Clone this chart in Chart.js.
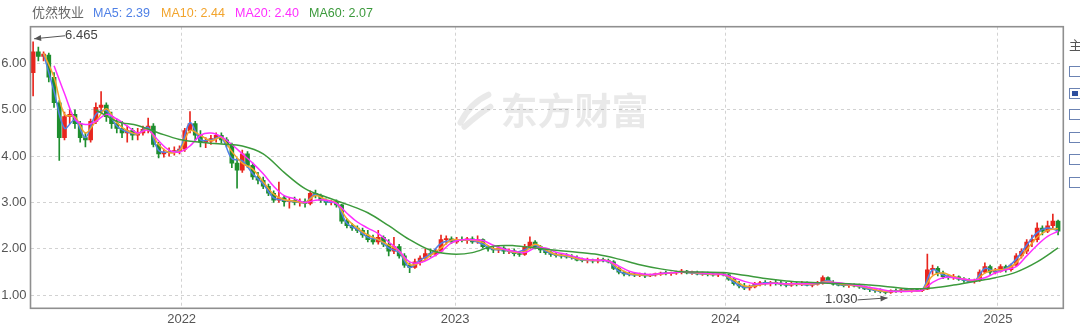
<!DOCTYPE html>
<html><head><meta charset="utf-8">
<script src="https://cdn.jsdelivr.net/npm/chart.js@4.4.1/dist/chart.umd.min.js"></script>
<style>
html,body{margin:0;padding:0;background:#fff;}
#wrap{position:relative;width:1080px;height:326px;overflow:hidden;font-family:"Liberation Sans",Arial,"Noto Sans CJK SC",sans-serif;}
#c{position:absolute;left:0;top:0;}
.lg{position:absolute;top:6px;font-size:12.5px;line-height:14px;white-space:nowrap;}
.cb{position:absolute;left:1069px;width:12px;height:11px;border:1px solid #6b83b3;box-sizing:border-box;background:#fff;}
.cb.on::after{content:"";position:absolute;left:2px;top:2px;width:6px;height:5px;background:#2d4f9e;}
#zhu{position:absolute;left:1069px;top:38px;font-size:13px;color:#555;font-family:"Noto Sans CJK SC",sans-serif;line-height:14px;}
</style></head><body>
<div id="wrap">
<canvas id="c" width="1080" height="326"></canvas>
<div id="legend"></div>
<div id="zhu">主</div>
<div class="cb" style="top:66px"></div>
<div class="cb on" style="top:88px"></div>
<div class="cb" style="top:109px"></div>
<div class="cb" style="top:132px"></div>
<div class="cb" style="top:154px"></div>
<div class="cb" style="top:177px"></div>
</div>
<script>
// ---------- DATA ----------
const stockName = "优然牧业";
const watermarkText = "东方财富";
const maNames = ["MA5", "MA10", "MA20", "MA60"];
const maLatest = ["2.39", "2.44", "2.40", "2.07"];
const yearLabels = ["2022", "2023", "2024", "2025"];
const yearTickPos = [28.9, 81.2, 132.9, 185.0];   // week index where each year starts
const yTickValues = [1, 2, 3, 4, 5, 6];

// weekly candles (week index 0 = listing week, June 2021)
const opens = [5.80,6.25,6.15,6.18,5.70,5.15,4.40,4.85,4.90,4.70,4.40,4.35,4.75,5.05,5.10,4.85,4.70,4.60,4.50,4.55,
4.45,4.50,4.58,4.65,4.25,4.05,4.08,4.10,4.12,4.15,4.55,4.70,4.45,4.30,4.32,4.38,4.45,4.35,4.25,3.85,
3.70,4.05,3.80,3.55,3.48,3.35,3.20,3.05,3.10,3.02,3.05,3.00,3.02,2.98,3.20,3.15,3.05,3.00,3.02,2.95,
2.60,2.50,2.45,2.40,2.30,2.20,2.15,2.25,2.10,1.95,2.05,1.85,1.65,1.60,1.72,1.80,1.90,1.88,1.95,2.20,
2.22,2.15,2.20,2.18,2.22,2.15,2.20,2.05,2.00,1.98,2.02,1.95,1.96,1.90,1.88,2.05,2.15,2.05,1.98,1.92,
1.88,1.86,1.85,1.83,1.82,1.76,1.75,1.76,1.74,1.76,1.75,1.72,1.58,1.50,1.46,1.45,1.44,1.45,1.42,1.44,
1.46,1.48,1.47,1.48,1.50,1.52,1.48,1.49,1.46,1.47,1.45,1.44,1.46,1.44,1.35,1.25,1.20,1.16,1.18,1.25,
1.27,1.26,1.28,1.25,1.24,1.22,1.25,1.23,1.26,1.22,1.24,1.26,1.38,1.28,1.24,1.22,1.21,1.23,1.20,1.18,
1.14,1.12,1.10,1.08,1.06,1.10,1.08,1.12,1.10,1.12,1.10,1.13,1.55,1.58,1.48,1.40,1.38,1.40,1.35,1.32,
1.30,1.32,1.50,1.62,1.50,1.52,1.62,1.55,1.65,1.85,1.95,2.15,2.20,2.45,2.38,2.50,2.60];
const highs = [6.465,6.35,6.25,6.22,5.80,5.20,4.95,5.00,5.00,4.75,4.50,4.80,5.15,5.39,5.15,4.95,4.80,4.75,4.65,4.60,
4.60,4.65,4.82,4.70,4.30,4.15,4.18,4.20,4.22,4.60,4.96,4.75,4.55,4.40,4.45,4.50,4.50,4.40,4.28,3.95,
4.13,4.10,3.85,3.65,3.55,3.40,3.25,3.44,3.15,3.10,3.12,3.08,3.08,3.25,3.27,3.18,3.08,3.05,3.06,2.96,
2.65,2.55,2.50,2.45,2.40,2.30,2.40,2.28,2.20,2.25,2.10,1.90,1.70,1.78,1.85,2.00,2.00,2.00,2.30,2.28,
2.26,2.25,2.26,2.25,2.26,2.28,2.22,2.08,2.05,2.08,2.05,2.00,2.00,1.95,2.10,2.26,2.18,2.08,2.00,1.95,
1.92,1.90,1.90,1.88,1.85,1.80,1.80,1.78,1.80,1.80,1.78,1.75,1.62,1.52,1.50,1.48,1.48,1.48,1.46,1.48,
1.50,1.52,1.50,1.52,1.56,1.54,1.52,1.52,1.50,1.50,1.48,1.48,1.49,1.46,1.38,1.30,1.26,1.22,1.28,1.30,
1.32,1.30,1.33,1.30,1.28,1.28,1.28,1.30,1.29,1.26,1.30,1.42,1.40,1.32,1.28,1.26,1.26,1.25,1.24,1.20,
1.18,1.15,1.14,1.10,1.12,1.14,1.14,1.15,1.14,1.14,1.15,1.89,1.65,1.62,1.52,1.45,1.45,1.42,1.38,1.36,
1.35,1.55,1.70,1.65,1.58,1.66,1.65,1.68,1.90,2.00,2.20,2.30,2.56,2.50,2.60,2.75,2.62];
const lows = [5.30,6.05,6.05,5.60,5.05,3.91,4.35,4.70,4.60,4.30,4.20,4.30,4.70,4.95,4.75,4.60,4.50,4.40,4.30,4.35,
4.35,4.45,4.50,4.20,3.96,3.98,4.00,4.02,4.05,4.10,4.50,4.35,4.20,4.18,4.25,4.30,4.28,4.20,3.75,3.31,
3.65,3.75,3.50,3.40,3.30,3.15,3.00,3.00,2.92,2.88,2.95,2.92,2.90,2.95,3.10,3.00,2.95,2.95,2.90,2.55,
2.45,2.40,2.35,2.25,2.15,2.10,2.10,2.05,1.85,1.90,1.80,1.60,1.49,1.58,1.65,1.75,1.82,1.85,1.92,2.10,
2.12,2.12,2.15,2.12,2.12,2.12,2.02,1.95,1.92,1.92,1.90,1.90,1.85,1.84,1.86,2.00,2.00,1.92,1.88,1.84,
1.82,1.80,1.80,1.78,1.74,1.72,1.70,1.70,1.70,1.72,1.70,1.55,1.46,1.42,1.42,1.40,1.40,1.38,1.40,1.41,
1.43,1.44,1.43,1.45,1.46,1.46,1.45,1.44,1.43,1.42,1.41,1.40,1.42,1.32,1.22,1.16,1.12,1.11,1.16,1.20,
1.22,1.20,1.22,1.20,1.18,1.19,1.20,1.21,1.20,1.18,1.22,1.24,1.25,1.22,1.20,1.18,1.17,1.18,1.15,1.12,
1.08,1.06,1.05,1.03,1.04,1.06,1.06,1.08,1.07,1.08,1.08,1.12,1.45,1.42,1.36,1.34,1.34,1.32,1.28,1.27,
1.26,1.30,1.48,1.45,1.46,1.50,1.50,1.52,1.62,1.80,1.90,2.05,2.15,2.30,2.35,2.45,2.30];
const closes = [6.25,6.15,6.20,5.70,5.15,4.40,4.85,4.90,4.70,4.40,4.35,4.75,5.05,5.10,4.85,4.70,4.60,4.50,4.55,4.45,
4.50,4.58,4.65,4.25,4.05,4.08,4.10,4.12,4.15,4.55,4.70,4.45,4.30,4.32,4.38,4.45,4.35,4.25,3.85,3.70,
4.05,3.80,3.55,3.48,3.35,3.20,3.05,3.10,3.02,3.05,3.00,3.02,2.98,3.20,3.15,3.05,3.00,3.02,2.95,2.60,
2.50,2.45,2.40,2.30,2.20,2.15,2.25,2.10,1.95,2.05,1.85,1.65,1.60,1.72,1.80,1.90,1.88,1.95,2.20,2.22,
2.15,2.20,2.18,2.22,2.15,2.20,2.05,2.00,1.98,2.02,1.95,1.96,1.90,1.88,2.05,2.15,2.05,1.98,1.92,1.88,
1.86,1.85,1.83,1.82,1.76,1.75,1.76,1.74,1.76,1.75,1.72,1.58,1.50,1.46,1.45,1.44,1.45,1.42,1.44,1.46,
1.48,1.47,1.48,1.50,1.52,1.48,1.49,1.46,1.47,1.45,1.44,1.46,1.44,1.35,1.25,1.20,1.16,1.18,1.25,1.27,
1.26,1.28,1.25,1.24,1.22,1.25,1.23,1.26,1.22,1.24,1.26,1.38,1.28,1.24,1.22,1.21,1.23,1.20,1.18,1.14,
1.12,1.10,1.08,1.06,1.10,1.08,1.12,1.10,1.12,1.10,1.13,1.55,1.58,1.48,1.40,1.38,1.40,1.35,1.32,1.30,
1.32,1.50,1.62,1.50,1.52,1.62,1.55,1.65,1.85,1.95,2.15,2.20,2.45,2.38,2.50,2.60,2.38];

// moving averages, sampled every 2 weeks (MA60 every 4 weeks)
const ma5 = [null,6.20,5.40,4.60,4.78,4.40,4.90,4.98,4.65,4.52,4.48,4.62,4.12,4.09,4.14,4.72,4.35,4.35,4.40,3.95,
3.90,3.62,3.40,3.10,3.05,3.02,3.00,3.18,3.02,2.98,2.55,2.42,2.25,2.20,2.02,1.92,1.60,1.76,1.89,2.12,
2.18,2.19,2.18,2.10,1.99,1.98,1.92,1.98,2.08,1.95,1.87,1.84,1.78,1.75,1.75,1.73,1.52,1.45,1.44,1.43,
1.47,1.48,1.51,1.48,1.46,1.45,1.45,1.28,1.17,1.22,1.27,1.26,1.23,1.24,1.23,1.25,1.32,1.23,1.22,1.19,
1.13,1.09,1.08,1.10,1.11,1.12,1.55,1.44,1.39,1.33,1.31,1.58,1.52,1.58,1.78,2.08,2.35,2.45,2.39];
const ma10 = [null,6.22,5.70,4.90,4.85,4.50,4.75,5.02,4.72,4.55,4.48,4.58,4.25,4.08,4.12,4.55,4.45,4.33,4.40,4.10,
3.85,3.72,3.45,3.18,3.06,3.03,3.00,3.15,3.06,2.99,2.65,2.45,2.30,2.20,2.08,1.95,1.66,1.70,1.86,2.02,
2.19,2.19,2.19,2.14,2.01,1.99,1.93,1.94,2.10,1.98,1.88,1.85,1.79,1.76,1.75,1.74,1.58,1.47,1.44,1.44,
1.46,1.48,1.50,1.49,1.47,1.45,1.45,1.33,1.20,1.20,1.25,1.26,1.24,1.24,1.24,1.25,1.30,1.25,1.22,1.20,
1.15,1.10,1.08,1.09,1.10,1.11,1.42,1.48,1.40,1.35,1.31,1.48,1.55,1.56,1.70,1.98,2.25,2.40,2.44];
const ma20 = [null,null,5.95,5.35,4.80,4.68,4.75,4.90,4.80,4.65,4.50,4.56,4.33,4.13,4.09,4.22,4.45,4.50,4.42,4.25,
4.05,3.85,3.62,3.35,3.15,3.08,3.00,3.05,3.05,2.98,2.77,2.58,2.45,2.33,2.15,1.96,1.72,1.70,1.80,1.94,
2.13,2.20,2.20,2.18,2.08,2.00,1.95,1.92,2.02,2.02,1.93,1.88,1.82,1.77,1.76,1.74,1.63,1.52,1.47,1.45,
1.47,1.48,1.50,1.50,1.48,1.46,1.45,1.38,1.30,1.25,1.25,1.26,1.25,1.25,1.25,1.26,1.28,1.27,1.24,1.21,
1.17,1.13,1.09,1.08,1.09,1.11,1.28,1.38,1.38,1.35,1.33,1.38,1.48,1.55,1.62,1.85,2.08,2.27,2.38];
const ma60 = [null,null,null,5.00,4.75,4.66,4.50,4.36,4.30,4.26,4.22,4.05,3.65,3.30,3.12,2.96,2.78,2.50,2.20,1.97,
1.89,1.92,2.06,2.07,2.02,1.97,1.93,1.88,1.78,1.66,1.57,1.51,1.50,1.49,1.43,1.36,1.31,1.28,1.26,1.25,
1.22,1.18,1.14,1.16,1.22,1.30,1.38,1.50,1.72,2.02];

// ---------- STYLE ----------
const RED = '#e8261e', GREEN = '#1e8e2e';
const maColors = ['#4f80e6', '#f2a42c', '#ff2eff', '#3c9a3c'];
const legendLeft = [93, 161, 235, 309];

// legend (HTML text)
const lg = document.getElementById('legend');
const t = document.createElement('span');
t.className = 'lg'; t.textContent = stockName;
t.style.cssText = 'left:32px;color:#666;font-size:13px;font-family:"Noto Sans CJK SC",sans-serif;top:5px;';
lg.appendChild(t);
maNames.forEach((n, k) => {
  const s = document.createElement('span');
  s.className = 'lg'; s.textContent = n + ': ' + maLatest[k];
  s.style.left = legendLeft[k] + 'px'; s.style.color = maColors[k];
  lg.appendChild(s);
});

const candleColors = closes.map((c, i) => c >= opens[i] ? RED : GREEN);
const wickData = highs.map((h, i) => ({x: i + 0.5, y: [lows[i], h]}));
const bodyData = closes.map((c, i) => ({x: i + 0.5, y: [opens[i], c]}));
const maSeries = (arr, step) => arr.map((v, k) => ({x: k * step + 0.5, y: v}));

const lineDs = (label, arr, step, color, order) => ({
  type: 'line', label, data: maSeries(arr, step), borderColor: color, borderWidth: 1.5,
  pointRadius: 0, tension: 0.35, fill: false, order, spanGaps: false
});

const watermark = {
  id: 'wm',
  beforeDatasetsDraw(chart) {
    const {ctx, chartArea: a} = chart;
    ctx.save();
    ctx.fillStyle = 'rgba(0,0,0,0.085)';
    ctx.font = 'bold 37px "Noto Sans CJK SC", sans-serif';
    ctx.textBaseline = 'middle'; ctx.textAlign = 'left';
    const cx = a.left + (a.right - a.left) * 0.455, cy = a.top + 84;
    ctx.fillText(watermarkText, cx, cy);
    // simple logo mark
    ctx.strokeStyle = 'rgba(0,0,0,0.085)'; ctx.lineWidth = 6; ctx.lineCap = 'round';
    ctx.beginPath(); ctx.moveTo(cx - 40, cy + 12); ctx.quadraticCurveTo(cx - 30, cy - 8, cx - 12, cy - 16); ctx.stroke();
    ctx.beginPath(); ctx.moveTo(cx - 36, cy + 16); ctx.quadraticCurveTo(cx - 20, cy + 2, cx - 10, cy - 4); ctx.stroke();
    ctx.restore();
  }
};

const frameAndNotes = {
  id: 'frame',
  afterDatasetsDraw(chart) {
    const {ctx, chartArea: a, scales: {x, y}} = chart;
    ctx.save();
    ctx.setLineDash([]);
    ctx.strokeStyle = '#8f8f8f'; ctx.lineWidth = 1.6;
    ctx.strokeRect(a.left, a.top, a.right - a.left, a.bottom - a.top);
    // max / min annotations
    let iMax = 0, iMin = 0;
    highs.forEach((h, i) => { if (h > highs[iMax]) iMax = i; });
    lows.forEach((l, i) => { if (l < lows[iMin]) iMin = i; });
    ctx.strokeStyle = '#555'; ctx.fillStyle = '#555'; ctx.lineWidth = 1;
    ctx.font = '13px "Liberation Sans", Arial, sans-serif'; ctx.textBaseline = 'middle';
    const arrow = (x0, y0, x1, y1) => {
      ctx.beginPath(); ctx.moveTo(x0, y0); ctx.lineTo(x1, y1); ctx.stroke();
      const ang = Math.atan2(y1 - y0, x1 - x0), L = 7, W = 3;
      ctx.beginPath();
      ctx.moveTo(x1, y1);
      ctx.lineTo(x1 - L * Math.cos(ang) + W * Math.sin(ang), y1 - L * Math.sin(ang) - W * Math.cos(ang));
      ctx.lineTo(x1 - L * Math.cos(ang) - W * Math.sin(ang), y1 - L * Math.sin(ang) + W * Math.cos(ang));
      ctx.closePath(); ctx.fill();
    };
    const mx = x.getPixelForValue(iMax + 0.5), my = y.getPixelForValue(highs[iMax]);
    arrow(mx + 32, my - 6, mx + 1, my - 3);
    ctx.fillStyle = '#444'; ctx.textAlign = 'left';
    ctx.fillText(highs[iMax].toFixed(3), mx + 32, my - 6);
    const nx = x.getPixelForValue(iMin + 0.5), ny = y.getPixelForValue(lows[iMin]);
    ctx.fillStyle = '#555';
    arrow(nx - 28, ny + 6, nx + 2, ny + 4);
    ctx.fillStyle = '#444'; ctx.textAlign = 'right';
    ctx.fillText(lows[iMin].toFixed(3), nx - 28, ny + 6);
    ctx.restore();
  }
};

Chart.defaults.font.family = '"Liberation Sans", Arial, sans-serif';

new Chart(document.getElementById('c'), {
  type: 'bar',
  data: {
    datasets: [
      lineDs(maNames[3], ma60, 4, maColors[3], 1),
      lineDs(maNames[2], ma20, 2, maColors[2], 2),
      lineDs(maNames[1], ma10, 2, maColors[1], 3),
      lineDs(maNames[0], ma5, 2, maColors[0], 4),
      {label: 'body', data: bodyData, backgroundColor: candleColors, barThickness: 4, grouped: false, order: 10, minBarLength: 1},
      {label: 'wick', data: wickData, backgroundColor: candleColors, barThickness: 1, grouped: false, order: 11}
    ]
  },
  options: {
    responsive: false, animation: false,
    layout: {padding: {left: 0, right: 16.7, top: 26.7, bottom: 0}},
    plugins: {legend: {display: false}, tooltip: {enabled: false}},
    scales: {
      x: {
        type: 'linear', min: 0, max: 197.5, offset: false,
        grid: {offset: false, color: '#d2d2d2', drawTicks: false, lineWidth: 1},
        border: {display: false, dash: [3, 3]},
        afterBuildTicks: ax => { ax.ticks = yearTickPos.map(v => ({value: v})); },
        afterFit: ax => { ax.height = 17.7; },
        ticks: {autoSkip: false, maxRotation: 0, padding: 3, color: '#555', font: {size: 13},
          callback: v => { const k = yearTickPos.indexOf(v); return k >= 0 ? yearLabels[k] : ''; }}
      },
      y: {
        type: 'linear', min: 0.72, max: 6.79,
        grid: {color: '#d2d2d2', drawTicks: false, lineWidth: 1},
        border: {display: false, dash: [3, 3]},
        afterBuildTicks: ax => { ax.ticks = yTickValues.map(v => ({value: v})); },
        afterFit: ax => { ax.width = 30.5; },
        ticks: {padding: 4, color: '#555', font: {size: 13}, callback: v => Number(v).toFixed(2)}
      }
    }
  },
  plugins: [watermark, frameAndNotes]
});
</script>
</body></html>
